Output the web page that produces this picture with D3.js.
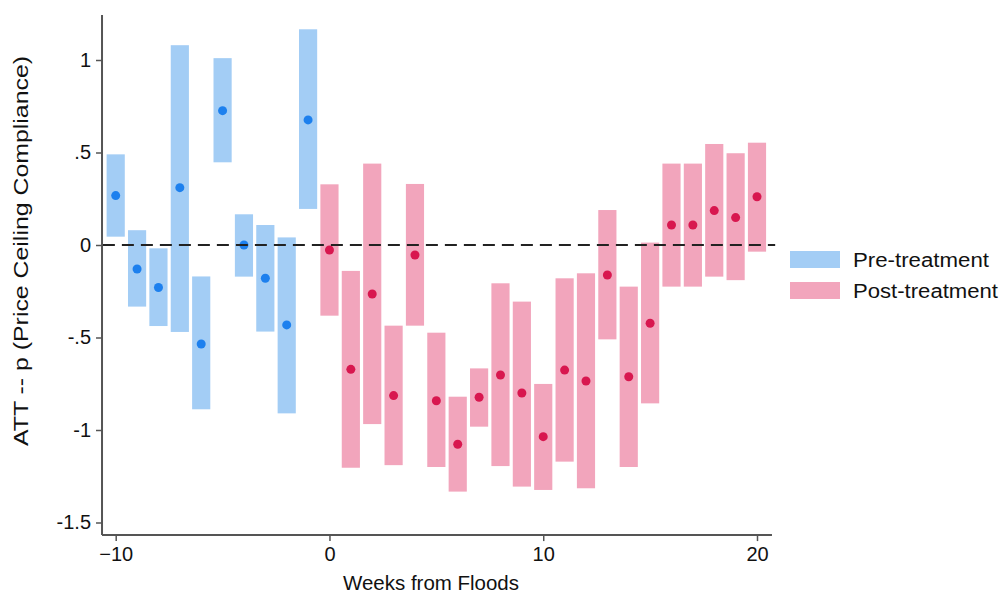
<!DOCTYPE html>
<html>
<head>
<meta charset="utf-8">
<script src="https://cdn.jsdelivr.net/npm/d3@7"></script>
<style>
  body { margin: 0; background: #fff; }
  text { font-family: "Liberation Sans", Arial, sans-serif; fill: #111; }
</style>
</head>
<body>
<div id="chart"></div>
<script>
// week, estimate, lower and upper bound of the interval
var preWeeks = [-10, -9, -8, -7, -6, -5, -4, -3, -2, -1];
var preEst   = [0.267, -0.13, -0.23, 0.31, -0.535, 0.726, 0.0, -0.18, -0.432, 0.676];
var preLo    = [0.045, -0.333, -0.438, -0.47, -0.888, 0.447, -0.171, -0.468, -0.91, 0.195];
var preHi    = [0.49, 0.08, -0.018, 1.08, -0.17, 1.01, 0.166, 0.108, 0.041, 1.166];

var postWeeks = [0, 1, 2, 3, 4, 5, 6, 7, 8, 9, 10, 11, 12, 13, 14, 15, 16, 17, 18, 19, 20];
var postEst   = [-0.027, -0.672, -0.265, -0.814, -0.054, -0.842, -1.077, -0.823, -0.703, -0.80, -1.036,
                 -0.676, -0.735, -0.162, -0.712, -0.423, 0.108, 0.108, 0.186, 0.148, 0.261];
var postLo    = [-0.382, -1.204, -0.968, -1.19, -0.436, -1.2, -1.333, -0.982, -1.195, -1.306, -1.324,
                 -1.171, -1.315, -0.51, -1.2, -0.856, -0.225, -0.225, -0.171, -0.19, -0.036];
var postHi    = [0.328, -0.14, 0.44, -0.436, 0.33, -0.474, -0.82, -0.667, -0.207, -0.306, -0.751,
                 -0.18, -0.153, 0.189, -0.225, 0.013, 0.44, 0.44, 0.546, 0.496, 0.553];

var xTicks = [-10, 0, 10, 20];
var yTicks = [1, 0.5, 0, -0.5, -1, -1.5];
var yTickLabels = ["1", ".5", "0", "-.5", "-1", "-1.5"];

var width = 1000, height = 599;

var svg = d3.select("#chart").append("svg")
    .attr("width", width)
    .attr("height", height);

var x = d3.scaleLinear().domain([-10, 20]).range([115.7, 757]);
var y = d3.scaleLinear().domain([0, 1]).range([245, 60]);

var pre = preWeeks.map(function(w, i) { return {w: w, est: preEst[i], lo: preLo[i], hi: preHi[i]}; });
var post = postWeeks.map(function(w, i) { return {w: w, est: postEst[i], lo: postLo[i], hi: postHi[i]}; });

var barW = x(0.85) - x(0);

function drawGroup(data, barColor) {
  var g = svg.append("g");
  g.selectAll("rect")
    .data(data)
    .enter()
    .append("rect")
      .attr("x", function(d) { return x(d.w) - barW / 2; })
      .attr("y", function(d) { return y(d.hi); })
      .attr("width", barW)
      .attr("height", function(d) { return y(d.lo) - y(d.hi); })
      .attr("fill", barColor);
  return g;
}

var gPre = drawGroup(pre, "#a3cdf5");
var gPost = drawGroup(post, "#f2a5bc");

// zero reference line
svg.append("line")
    .attr("x1", x(-10.6)).attr("x2", x(20.85))
    .attr("y1", y(0)).attr("y2", y(0))
    .attr("stroke", "#222")
    .attr("stroke-width", 2)
    .attr("stroke-dasharray", "12,7");

// dots
gPre.selectAll("circle")
  .data(pre)
  .enter()
  .append("circle")
    .attr("cx", function(d) { return x(d.w); })
    .attr("cy", function(d) { return y(d.est); })
    .attr("r", 4.5)
    .attr("fill", "#1d80ee");

gPost.selectAll("circle")
  .data(post)
  .enter()
  .append("circle")
    .attr("cx", function(d) { return x(d.w); })
    .attr("cy", function(d) { return y(d.est); })
    .attr("r", 4.5)
    .attr("fill", "#d8174f");

// axes
var xAxis = svg.append("g")
    .attr("transform", "translate(0," + y(-1.568) + ")")
    .call(d3.axisBottom(x).tickValues(xTicks).tickSize(6).tickPadding(6).tickFormat(d3.format("d")));
xAxis.select(".domain").attr("d", "M" + x(-10.64) + ",0H" + x(20.7)).attr("stroke", "#555").attr("stroke-width", 2);

var yAxis = svg.append("g")
    .attr("transform", "translate(" + x(-10.64) + ",0)")
    .call(d3.axisLeft(y).tickValues(yTicks).tickSize(6).tickPadding(5)
      .tickFormat(function(d, i) { return yTickLabels[i]; }));
yAxis.select(".domain").attr("d", "M0," + y(1.243) + "V" + y(-1.568)).attr("stroke", "#555").attr("stroke-width", 2);

svg.selectAll(".tick line").attr("stroke", "#555").attr("stroke-width", 1.5);
svg.selectAll(".tick text")
    .style("font-family", "'Liberation Sans', Arial, sans-serif")
    .style("font-size", "20px")
    .attr("fill", "#111");

// axis titles
svg.append("text")
    .attr("x", 431).attr("y", 590)
    .attr("text-anchor", "middle")
    .style("font-size", "20px")
    .attr("textLength", 176)
    .attr("lengthAdjust", "spacingAndGlyphs")
    .text("Weeks from Floods");

svg.append("text")
    .attr("transform", "translate(28,251) rotate(-90)")
    .attr("text-anchor", "middle")
    .style("font-size", "20px")
    .attr("textLength", 390)
    .attr("lengthAdjust", "spacingAndGlyphs")
    .text("ATT -- p (Price Ceiling Compliance)");

// legend
var legend = [{label: "Pre-treatment", color: "#a3cdf5", len: 136}, {label: "Post-treatment", color: "#f2a5bc", len: 145}];
var lg = svg.append("g").selectAll("g")
  .data(legend)
  .enter()
  .append("g")
    .attr("transform", function(d, i) { return "translate(790," + (251 + i * 31) + ")"; });
lg.append("rect").attr("width", 50).attr("height", 17).attr("fill", function(d) { return d.color; });
lg.append("text").attr("x", 63).attr("y", 16)
    .style("font-size", "20px")
    .attr("textLength", function(d) { return d.len; })
    .attr("lengthAdjust", "spacingAndGlyphs")
    .text(function(d) { return d.label; });
</script>
</body>
</html>
